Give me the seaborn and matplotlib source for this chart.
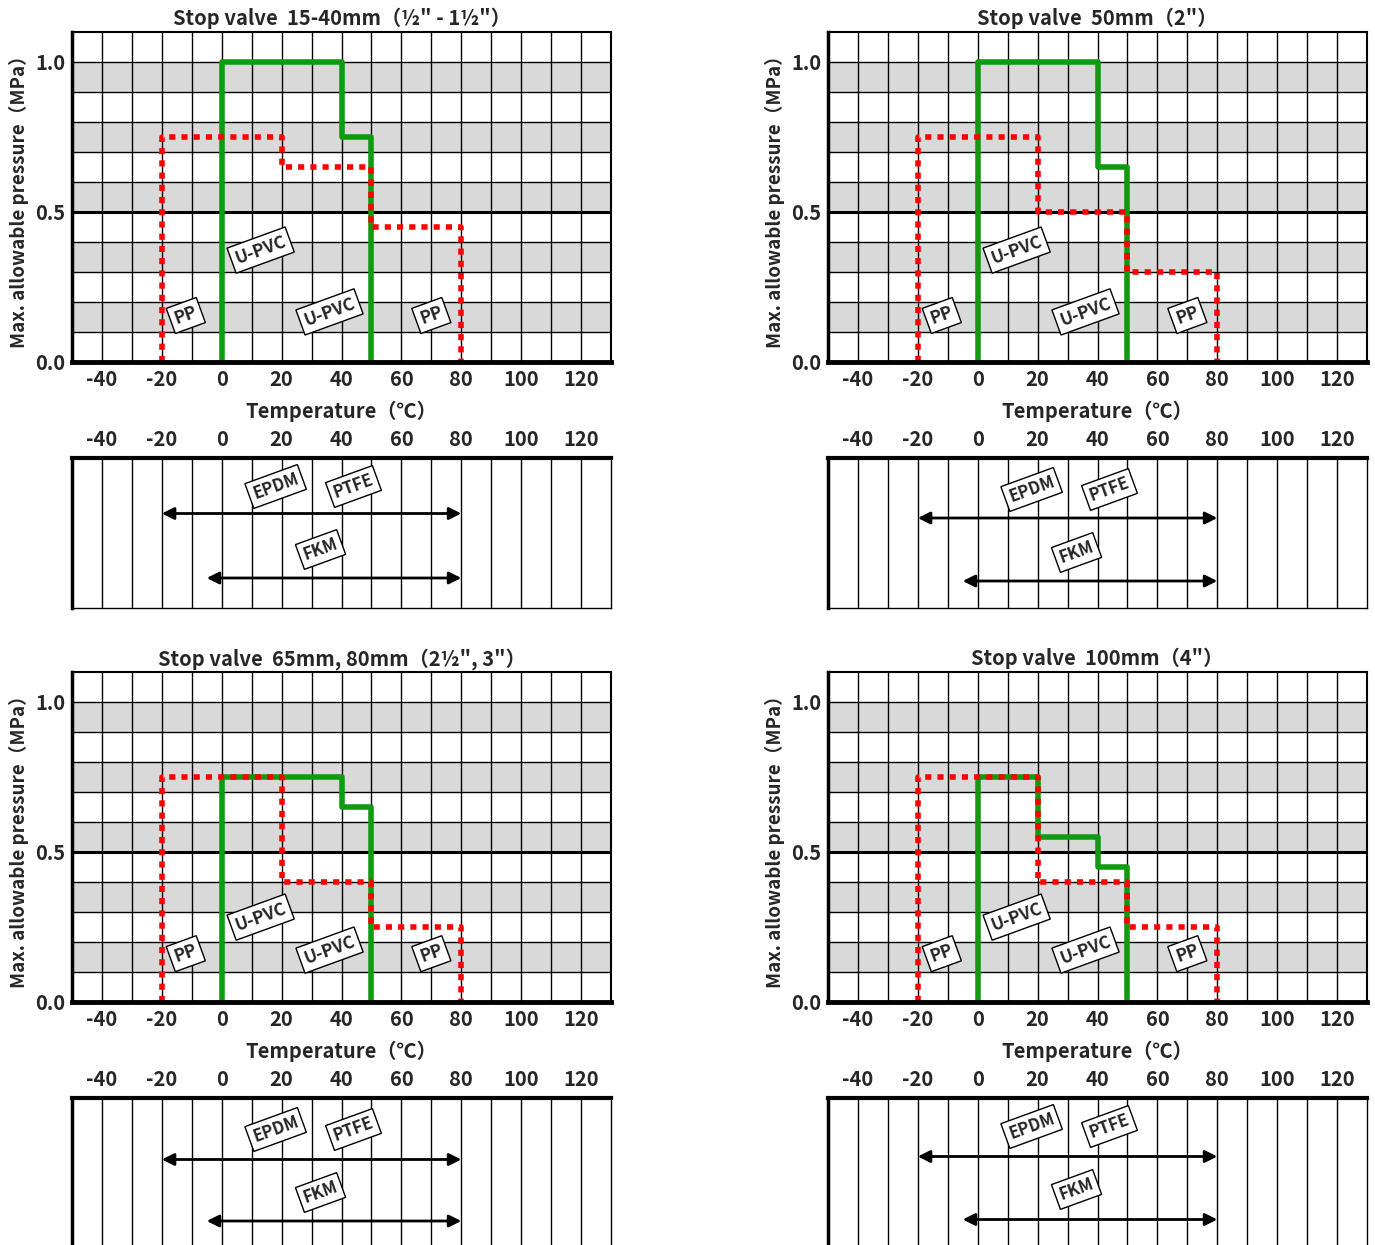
import numpy as np
import pandas as pd
import seaborn as sns
import matplotlib.pyplot as plt

sns.set_style("white")
plt.rcParams['font.family'] = ['Noto Sans CJK JP', 'DejaVu Sans']
plt.rcParams['axes.unicode_minus'] = False

# chart values
titles = ['Stop valve  15-40mm（½" - 1½"）', 'Stop valve  50mm（2"）',
          'Stop valve  65mm, 80mm（2½", 3"）', 'Stop valve  100mm（4"）']
upvc_temps = [[0, 40, 50], [0, 40, 50], [0, 40, 50], [0, 20, 40, 50]]
upvc_press = [[1.0, 0.75], [1.0, 0.65], [0.75, 0.65], [0.75, 0.55, 0.45]]
pp_temps = [[-20, 20, 50, 80]] * 4
pp_press = [[0.75, 0.65, 0.45], [0.75, 0.50, 0.30], [0.75, 0.40, 0.25], [0.75, 0.40, 0.25]]
seal_ranges = {'EPDM / PTFE': (-20, 80), 'FKM': (-5, 80)}
xticks = [-40, -20, 0, 20, 40, 60, 80, 100, 120]

W, H = 1375, 1245
fig = plt.figure(figsize=(W / 100, H / 100), dpi=100)


def px_axes(left, top, right, bottom):
    return fig.add_axes([left / W, 1 - bottom / H, (right - left) / W, (bottom - top) / H])


def steps(temps, press):
    xs, ys = [temps[0]], [0.0]
    for i, p in enumerate(press):
        xs += [temps[i], temps[i + 1]]
        ys += [p, p]
    xs.append(temps[-1])
    ys.append(0.0)
    return pd.DataFrame({'t': xs, 'p': ys})


def tag(ax, x, y, s, fs=12.5):
    ax.text(x, y, s, rotation=20, ha='center', va='center', fontsize=fs, fontweight='bold', zorder=6,
            bbox=dict(boxstyle='square,pad=0.25', fc='white', ec='black', lw=1))


lefts = [(72, 611), (828, 1367)]
rows = [(32, 362, 458, 608), (672, 1002, 1098, 1248)]
# label heights per panel
upvc_tag_y = [0.373, 0.373, 0.283, 0.283]
low_tag_y = [0.167, 0.167, 0.173, 0.173]
seal_y = [(0.63, 0.20, 0.81, 0.39), (0.60, 0.18, 0.79, 0.37),
          (0.59, 0.18, 0.79, 0.37), (0.61, 0.19, 0.81, 0.39)]

for k in range(4):
    r, c = divmod(k, 2)
    l, rr = lefts[c]
    top, bot, stop, sbot = rows[r]

    ax = px_axes(l, top, rr, bot)
    ax.set_xlim(-50, 130)
    ax.set_ylim(0, 1.1)
    for y0 in [0.1, 0.3, 0.5, 0.7, 0.9]:
        ax.axhspan(y0, y0 + 0.1, color='#d9d9d9', lw=0, zorder=0)
    for x in range(-40, 130, 10):
        ax.axvline(x, color='black', lw=1, zorder=1)
    for y in np.arange(0.1, 1.1, 0.1):
        ax.axhline(y, color='black', lw=2.2 if abs(y - 0.5) < 1e-6 else 1, zorder=1)

    sns.lineplot(data=steps(upvc_temps[k], upvc_press[k]), x='t', y='p', sort=False, estimator=None,
                 color='#109a10', lw=4, ax=ax, zorder=3)
    sns.lineplot(data=steps(pp_temps[k], pp_press[k]), x='t', y='p', sort=False, estimator=None,
                 color='#ff0000', lw=4, ax=ax, zorder=4, dashes=False)
    ax.lines[-1].set_linestyle((0, (1.1, 1.1)))
    ax.lines[-1].set_dash_capstyle('butt')

    tag(ax, 13, upvc_tag_y[k], 'U-PVC')
    tag(ax, 36, low_tag_y[k], 'U-PVC')
    tag(ax, -12, low_tag_y[k] - 0.012, 'PP')
    tag(ax, 70, low_tag_y[k] - 0.012, 'PP')

    ax.set_xticks(xticks)
    ax.set_yticks([0, 0.5, 1.0])
    ax.set_yticklabels(['0.0', '0.5', '1.0'])
    ax.tick_params(length=0, labelsize=14.5, pad=5)
    for t in ax.get_xticklabels() + ax.get_yticklabels():
        t.set_fontweight('bold')
    ax.set_xlabel('Temperature（℃）', fontsize=14.5, fontweight='bold', labelpad=8)
    ax.set_ylabel('Max. allowable pressure（MPa）', fontsize=13.5, fontweight='bold', labelpad=4)
    ax.set_title(titles[k], fontsize=14.5, fontweight='bold', pad=5)
    for side in ['top', 'right']:
        ax.spines[side].set_linewidth(1.5)
    ax.spines['left'].set_linewidth(2.5)
    ax.spines['bottom'].set_linewidth(3.5)
    for s in ax.spines.values():
        s.set_color('black')
        s.set_zorder(5)

    # seal material strip
    sx = px_axes(l, stop, rr, sbot)
    sx.set_xlim(-50, 130)
    sx.set_ylim(0, 1)
    for x in range(-40, 130, 10):
        sx.axvline(x, color='black', lw=1, zorder=1)
    ya, yb, ta, tb = seal_y[k]
    for (lo, hi), yy in zip(seal_ranges.values(), [ya, yb]):
        sx.annotate('', xy=(hi, yy), xytext=(lo, yy),
                    arrowprops=dict(arrowstyle='<|-|>', color='black', lw=2, mutation_scale=18,
                                    shrinkA=0, shrinkB=0), zorder=3)
    tag(sx, 18, ta, 'EPDM', 12)
    tag(sx, 44, ta, 'PTFE', 12)
    tag(sx, 33, tb, 'FKM', 12)
    sx.xaxis.tick_top()
    sx.set_xticks(xticks)
    sx.set_yticks([])
    sx.tick_params(length=0, labelsize=14.5, pad=6)
    for t in sx.get_xticklabels():
        t.set_fontweight('bold')
    sx.spines['top'].set_linewidth(3)
    sx.spines['left'].set_linewidth(2.5)
    sx.spines['right'].set_linewidth(1)
    sx.spines['bottom'].set_linewidth(1)
    for s in sx.spines.values():
        s.set_color('black')

fig.savefig('out.png', dpi=100)
